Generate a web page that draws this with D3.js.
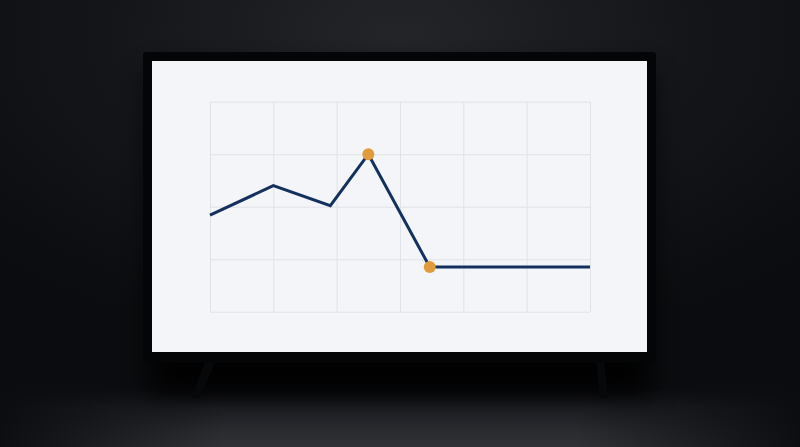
<!DOCTYPE html>
<html>
<head>
<meta charset="utf-8">
<script src="https://cdn.jsdelivr.net/npm/d3@7"></script>
<style>
    html, body { margin: 0; padding: 0; background: #111215; overflow: hidden; }
</style>
</head>
<body>
<div id="tv"></div>
<script>
// ---------- data ----------
const xValues = [0, 1, 1.9, 2.5, 3.47, 6];
const yValues = [1.84, 2.4, 2.02, 3.0, 0.85, 0.85];
const highlighted = [3, 4];
const xTicks = [0, 1, 2, 3, 4, 5, 6];
const yTicks = [0, 1, 2, 3, 4];

const W = 800, H = 447;

const svg = d3.select("#tv")
    .append("svg")
    .attr("width", W)
    .attr("height", H)
    .attr("viewBox", `0 0 ${W} ${H}`);

const defs = svg.append("defs");

// background glow
const bg = defs.append("radialGradient")
    .attr("id", "bg")
    .attr("cx", "50%").attr("cy", "8%").attr("r", "70%");
bg.append("stop").attr("offset", "0%").attr("stop-color", "#232529");
bg.append("stop").attr("offset", "50%").attr("stop-color", "#15161a");
bg.append("stop").attr("offset", "100%").attr("stop-color", "#0b0c0f");

// floor: dark at the horizon, lighter towards the viewer
const floor = defs.append("linearGradient")
    .attr("id", "floor")
    .attr("x1", 0).attr("y1", 0).attr("x2", 0).attr("y2", 1);
floor.append("stop").attr("offset", "0%").attr("stop-color", "#0a0b0e");
floor.append("stop").attr("offset", "35%").attr("stop-color", "#1f2024");
floor.append("stop").attr("offset", "100%").attr("stop-color", "#313237");

// side vignette over the floor
const side = defs.append("linearGradient")
    .attr("id", "side")
    .attr("x1", 0).attr("y1", 0).attr("x2", 1).attr("y2", 0);
side.append("stop").attr("offset", "0%").attr("stop-color", "#0b0c0f").attr("stop-opacity", 0.95);
side.append("stop").attr("offset", "28%").attr("stop-color", "#0b0c0f").attr("stop-opacity", 0);
side.append("stop").attr("offset", "72%").attr("stop-color", "#0b0c0f").attr("stop-opacity", 0);
side.append("stop").attr("offset", "100%").attr("stop-color", "#0b0c0f").attr("stop-opacity", 0.95);

defs.append("filter")
    .attr("id", "blur")
    .attr("x", "-30%").attr("y", "-30%").attr("width", "160%").attr("height", "160%")
    .append("feGaussianBlur").attr("stdDeviation", 14);

svg.append("rect")
    .attr("width", W).attr("height", H)
    .attr("fill", "url(#bg)");

svg.append("rect")
    .attr("x", 0).attr("y", 388)
    .attr("width", W).attr("height", H - 388)
    .attr("fill", "url(#floor)");

svg.append("rect")
    .attr("x", 0).attr("y", 388)
    .attr("width", W).attr("height", H - 388)
    .attr("fill", "url(#side)");

// shadow behind the set
svg.append("rect")
    .attr("x", 150).attr("y", 70)
    .attr("width", 500).attr("height", 325)
    .attr("fill", "#030406")
    .attr("opacity", 0.9)
    .attr("filter", "url(#blur)");

// stand legs
const legs = [
    [[206, 360], [216, 360], [200, 398], [191, 398]],
    [[596, 360], [604, 360], [608, 398], [600, 398]]
];
svg.append("g")
    .selectAll("polygon")
    .data(legs)
    .enter()
    .append("polygon")
    .attr("points", d => d.map(p => p.join(",")).join(" "))
    .attr("fill", "#07080a");

// frame + screen
svg.append("rect")
    .attr("x", 143).attr("y", 52)
    .attr("width", 513).attr("height", 311)
    .attr("rx", 3)
    .attr("fill", "#040507");

svg.append("rect")
    .attr("x", 152).attr("y", 61)
    .attr("width", 495).attr("height", 291)
    .attr("fill", "#f3f5f8");

// ---------- chart ----------
const x = d3.scaleLinear().domain([0, 6]).range([210, 590]);
const y = d3.scaleLinear().domain([0, 4]).range([311.7, 101.7]);

const chart = svg.append("g");

chart.append("g")
    .attr("transform", `translate(0, ${y(0)})`)
    .call(d3.axisBottom(x).tickValues(xTicks).tickSize(-(y(0) - y(4))).tickFormat(""))
    .call(g => g.select(".domain").remove())
    .call(g => g.selectAll("line").attr("stroke", "#dfe3e8").attr("stroke-width", 1));

chart.append("g")
    .attr("transform", `translate(${x(0)}, 0)`)
    .call(d3.axisLeft(y).tickValues(yTicks).tickSize(-(x(6) - x(0))).tickFormat(""))
    .call(g => g.select(".domain").remove())
    .call(g => g.selectAll("line").attr("stroke", "#dfe3e8").attr("stroke-width", 1));

const points = xValues.map((v, i) => ({ x: v, y: yValues[i] }));

chart.append("path")
    .datum(points)
    .attr("fill", "none")
    .attr("stroke", "#14305f")
    .attr("stroke-width", 3)
    .attr("stroke-linejoin", "miter")
    .attr("d", d3.line().x(d => x(d.x)).y(d => y(d.y)));

chart.selectAll("circle")
    .data(highlighted.map(i => points[i]))
    .enter()
    .append("circle")
    .attr("cx", d => x(d.x))
    .attr("cy", d => y(d.y))
    .attr("r", 6)
    .attr("fill", "#e29b3a");
</script>
</body>
</html>
